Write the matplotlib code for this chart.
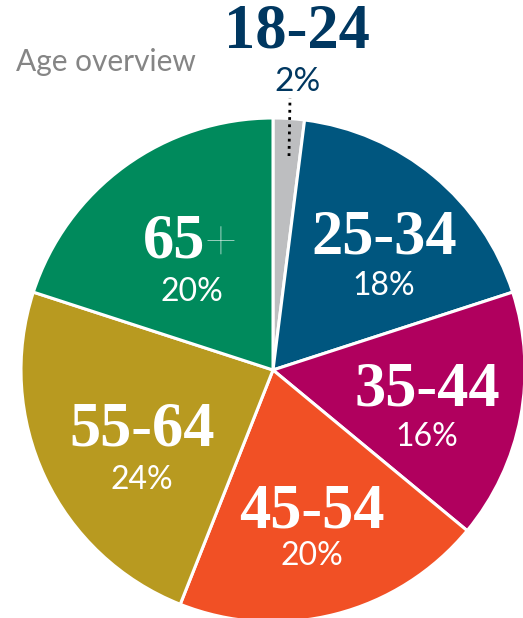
import matplotlib.pyplot as plt

# age groups, share in percent (clockwise from top)
groups = ["18-24", "25-34", "35-44", "45-54", "55-64", "65"]
shares = [2, 18, 16, 20, 24, 20]
pct_labels = ["2%", "18%", "16%", "20%", "24%", "20%"]
colors = ["#bdbec0", "#00567f", "#b0005e", "#f15025", "#b89a20", "#008a5c"]

W, H = 523, 618
fig = plt.figure(figsize=(W / 100, H / 100), dpi=100)
ax = fig.add_axes([0, 0, 1, 1])
ax.set_xlim(0, W)
ax.set_ylim(H, 0)  # pixel coords, y down -> clockwise on screen is counterclock in data
ax.set_aspect("equal")
ax.axis("off")

ax.pie(shares, colors=colors, center=(273, 370), radius=252,
       startangle=-90, counterclock=True,
       wedgeprops=dict(edgecolor="white", linewidth=2.2))
ax.set_xlim(0, W)
ax.set_ylim(H, 0)

serif = "Liberation Serif"
sans = "Lato"

# label spots (pixels, centre of the age text / the percent text)
age_pos = [(297, 33), (384, 239), (427, 390), (312, 512), (142, 431), (174, 242)]
pct_pos = [(297, 82), (384, 286), (427, 437), (312, 556), (142, 480), (192, 292)]

for i, g in enumerate(groups):
    c = "#003760" if i == 0 else "white"
    ax.text(age_pos[i][0], age_pos[i][1], g, family=serif, weight="bold",
            fontsize=45, color=c, ha="center", va="center")
    ax.text(pct_pos[i][0], pct_pos[i][1], pct_labels[i], family=sans,
            fontsize=24 if i == 0 else 23, color=c, ha="center", va="center")

# the thin plus of "65+"
ax.text(204, 245, "+", family=sans, weight="light", fontsize=42,
        color="white", ha="left", va="center")

# leader for the small slice
ax.plot([289, 290], [156, 98], color="black", linestyle=(0, (1, 1.6)), lw=2)

ax.text(16, 62, "Age overview", family=sans, fontsize=21.5,
        color="#858585", ha="left", va="center")

fig.savefig("out.png", dpi=100)
